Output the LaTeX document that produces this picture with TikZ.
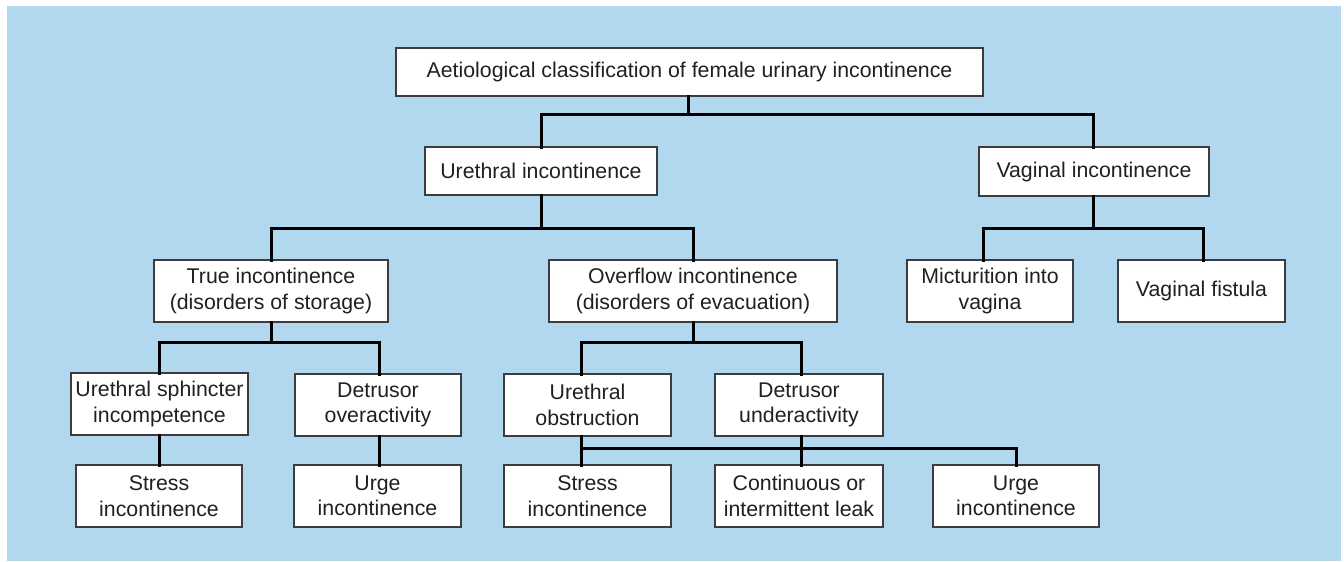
\documentclass[tikz,border=0pt]{standalone}
\usepackage{fontspec}
\setmainfont{Liberation Sans}
\definecolor{bgblue}{RGB}{178,216,240}
\definecolor{boxline}{RGB}{60,60,62}
\definecolor{txt}{RGB}{35,31,32}
\begin{document}
\begin{tikzpicture}[x=1pt,y=-1pt,
  box/.style={draw=boxline,line width=1.6pt,fill=white,inner sep=0pt,outer sep=0pt,align=center,
    font=\fontsize{21.3}{25.5}\selectfont,text=txt},
  link/.style={draw=black,line width=3pt,line cap=rect}]
\useasboundingbox (0,0) rectangle (1344,562);
\fill[bgblue] (7,6) rectangle (1341,561);
\newcommand{\mkbox}[6]{\node[box,anchor=north west,minimum width=#4pt-#2pt,minimum height=#5pt-#3pt] (#1) at (#2,#3) {#6};}
\mkbox{top}{396}{48}{983}{96}{Aetiological classification of female urinary incontinence}
\mkbox{ureth}{425}{147}{657}{195}{Urethral incontinence}
\mkbox{vag}{979}{147}{1209}{196}{Vaginal incontinence}
\mkbox{true}{154}{260}{388}{322}{True incontinence\\(disorders of storage)}
\mkbox{over}{549}{260}{837}{322}{Overflow incontinence\\(disorders of evacuation)}
\mkbox{mict}{907}{260}{1073}{322}{Micturition into\\vagina}
\mkbox{fist}{1118}{260}{1285}{322}{Vaginal fistula}
\mkbox{usi}{71}{373}{248}{435}{Urethral sphincter\\incompetence}
\mkbox{dov}{295}{374}{461}{436}{Detrusor\\overactivity}
\mkbox{uob}{504}{374}{671}{436}{Urethral\\obstruction}
\mkbox{dun}{715}{374}{883}{436}{Detrusor\\underactivity}
\mkbox{strA}{76}{465}{242}{527}{Stress\\incontinence}
\mkbox{urgA}{294}{465}{461}{527}{Urge\\incontinence}
\mkbox{strB}{504}{465}{671}{527}{Stress\\incontinence}
\mkbox{cont}{715}{465}{883}{527}{Continuous or\\intermittent leak}
\mkbox{urgB}{933}{465}{1099}{527}{Urge\\incontinence}
% bus coordinates
\coordinate (b1) at (688,114);
\coordinate (b2) at (541,228);
\coordinate (b3) at (1093,228);
\coordinate (b4) at (271,342);
\coordinate (b5) at (693,342);
\coordinate (b6) at (581,448);
\coordinate (xmict) at (983,0);
\coordinate (xfist) at (1203,0);
\coordinate (xusi) at (159,0);
\coordinate (xdov) at (379,0);
\coordinate (xdun) at (801,0);
\coordinate (xurgB) at (1016,0);
% level 1
\draw[link] (top.south -| b1) -- (b1);
\draw[link] (b1) -| (ureth.north -| b2);
\draw[link] (b1) -| (vag.north -| b3);
% urethral
\draw[link] (ureth.south -| b2) -- (b2);
\draw[link] (b2) -| (true.north -| b4);
\draw[link] (b2) -| (over.north -| b5);
% vaginal
\draw[link] (vag.south -| b3) -- (b3);
\draw[link] (b3) -| (mict.north -| xmict);
\draw[link] (b3) -| (fist.north -| xfist);
% true
\draw[link] (true.south -| b4) -- (b4);
\draw[link] (b4) -| (usi.north -| xusi);
\draw[link] (b4) -| (dov.north -| xdov);
\draw[link] (usi.south -| xusi) -- (strA.north -| xusi);
\draw[link] (dov.south -| xdov) -- (urgA.north -| xdov);
% overflow
\draw[link] (over.south -| b5) -- (b5);
\draw[link] (b5) -| (uob.north -| b6);
\draw[link] (b5) -| (dun.north -| xdun);
\draw[link] (uob.south -| b6) -- (strB.north -| b6);
\draw[link] (dun.south -| xdun) -- (cont.north -| xdun);
\draw[link] (b6) -| (urgB.north -| xurgB);
\end{tikzpicture}
\end{document}
